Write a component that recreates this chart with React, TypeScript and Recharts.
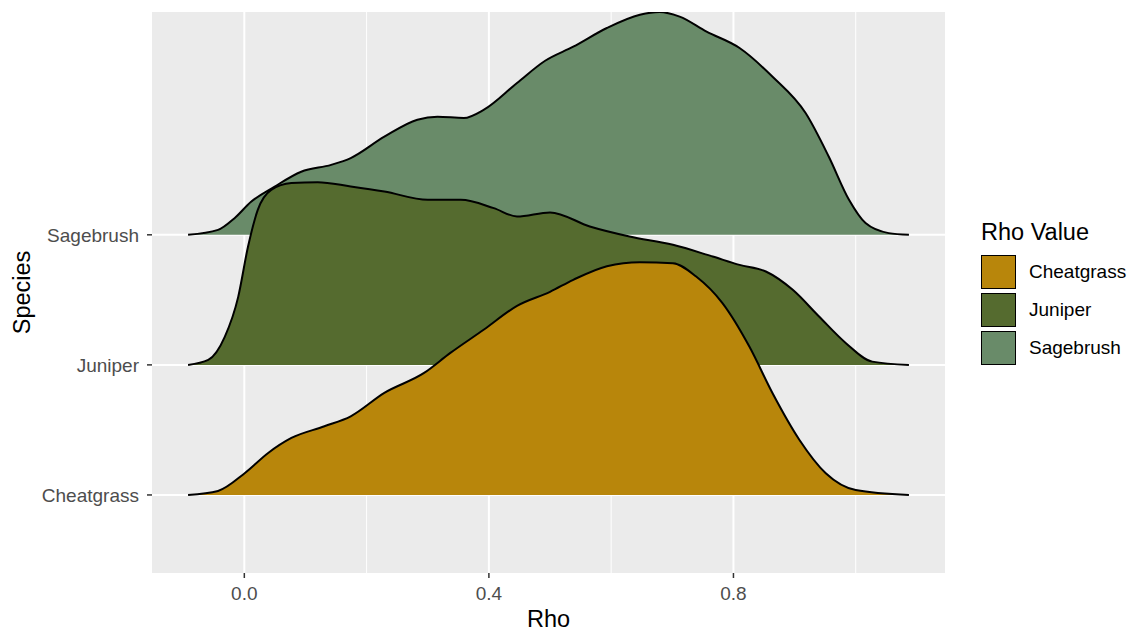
import React from "react";
import { ComposedChart, Area, XAxis, YAxis, CartesianGrid, Legend } from "recharts";

const FONT = '"Liberation Sans", Arial, Helvetica, sans-serif';

// species rows (bottom to top) and their fills
const species = ["Cheatgrass", "Juniper", "Sagebrush"];
const speciesColors = ["#B8860B", "#556B2F", "#698B69"];

// density curves: rho positions + ridge heights (in row units)
const sagebrushRho = [
  -0.092, -0.043, -0.016, 0.011, 0.049, 0.093, 0.142, 0.174, 0.229, 0.283, 0.316, 0.359, 0.392, 0.446,
  0.492, 0.538, 0.593, 0.647, 0.679, 0.712, 0.756, 0.81, 0.864, 0.918, 0.956, 0.989, 1.016, 1.054, 1.087,
];
const sagebrushDensity = [
  0, 0.038, 0.128, 0.254, 0.369, 0.485, 0.538, 0.59, 0.754, 0.885, 0.908, 0.898, 0.962, 1.167,
  1.338, 1.446, 1.59, 1.692, 1.713, 1.677, 1.562, 1.436, 1.215, 0.936, 0.6, 0.269, 0.09, 0.013, 0,
];

const juniperRho = [
  -0.092, -0.059, -0.032, -0.01, 0.006, 0.022, 0.044, 0.077, 0.12, 0.174, 0.229, 0.3, 0.354, 0.408,
  0.446, 0.5, 0.565, 0.63, 0.701, 0.766, 0.81, 0.853, 0.897, 0.94, 0.984, 1.027, 1.087,
];
const juniperDensity = [
  0, 0.038, 0.215, 0.523, 0.908, 1.192, 1.346, 1.398, 1.405, 1.372, 1.333, 1.269, 1.269, 1.205,
  1.141, 1.172, 1.064, 0.987, 0.923, 0.833, 0.769, 0.718, 0.577, 0.372, 0.167, 0.025, 0,
];

const cheatgrassRho = [
  -0.092, -0.043, 0.001, 0.039, 0.077, 0.131, 0.174, 0.229, 0.294, 0.337, 0.392, 0.446, 0.5,
  0.538, 0.593, 0.647, 0.701, 0.739, 0.782, 0.826, 0.864, 0.908, 0.951, 1.0, 1.087,
];
const cheatgrassDensity = [
  0, 0.031, 0.169, 0.323, 0.438, 0.528, 0.605, 0.785, 0.938, 1.092, 1.272, 1.454, 1.562,
  1.654, 1.759, 1.79, 1.782, 1.679, 1.475, 1.141, 0.782, 0.423, 0.167, 0.038, 0,
];

const rhoTicks = [0, 0.4, 0.8];
const rhoMinorTicks = [0.2, 0.6, 1.0];
const speciesTicks = [1, 2, 3];

// draw order: top ridge first so lower ridges overlap it
const ridges = [
  { name: "Sagebrush", base: 3, rho: sagebrushRho, density: sagebrushDensity, color: speciesColors[2] },
  { name: "Juniper", base: 2, rho: juniperRho, density: juniperDensity, color: speciesColors[1] },
  { name: "Cheatgrass", base: 1, rho: cheatgrassRho, density: cheatgrassDensity, color: speciesColors[0] },
];

// one table keyed by rho, each ridge sits on its own row baseline
const rowMap = new Map<number, Record<string, number>>();
ridges.forEach((r) => {
  r.rho.forEach((x, i) => {
    const row = rowMap.get(x) || { rho: x };
    row[r.name] = r.base + r.density[i];
    rowMap.set(x, row);
  });
});
const rows = Array.from(rowMap.values()).sort((a, b) => a.rho - b.rho);

const RidgeLegend = () => (
  <div style={{ fontFamily: FONT, color: "#000" }}>
    <div style={{ fontSize: 23.5, lineHeight: "28px", marginBottom: 7, whiteSpace: "nowrap" }}>Rho Value</div>
    {species.map((name, i) => (
      <div key={name} style={{ display: "flex", alignItems: "center", height: 38 }}>
        <div
          style={{
            width: 33,
            height: 32,
            background: speciesColors[i],
            border: "1.5px solid #000",
          }}
        />
        <span style={{ marginLeft: 13, fontSize: 19, whiteSpace: "nowrap" }}>{name}</span>
      </div>
    ))}
  </div>
);

export default function App() {
  return (
    <div style={{ position: "absolute", left: 0, top: 0, width: 1132, height: 631, background: "#fff" }}>
      <ComposedChart
        width={1132}
        height={631}
        data={rows}
        margin={{ top: 12, right: 187, bottom: 0, left: 0 }}
        style={{ fontFamily: FONT }}
      >
        <CartesianGrid
          fill="#EBEBEB"
          stroke="#FFFFFF"
          strokeWidth={1}
          horizontal={false}
          verticalValues={rhoMinorTicks}
        />
        <CartesianGrid
          stroke="#FFFFFF"
          strokeWidth={2}
          verticalValues={rhoTicks}
          horizontalValues={speciesTicks}
        />
        <XAxis
          type="number"
          dataKey="rho"
          domain={[-0.151, 1.146]}
          allowDataOverflow
          ticks={rhoTicks}
          tickFormatter={(v: number) => v.toFixed(1)}
          axisLine={false}
          tickLine={{ stroke: "#333333", strokeWidth: 1.5 }}
          tickSize={5}
          tickMargin={9}
          tick={{ fill: "#4D4D4D", fontSize: 19 }}
          height={58}
          label={{ value: "Rho", position: "insideBottom", offset: 4, fill: "#000", fontSize: 23.5 }}
        />
        <YAxis
          type="number"
          domain={[0.4, 4.713]}
          allowDataOverflow
          ticks={speciesTicks}
          tickFormatter={(v: number) => species[v - 1]}
          axisLine={false}
          tickLine={{ stroke: "#333333", strokeWidth: 1.5 }}
          tickSize={5}
          tickMargin={8}
          tick={{ fill: "#4D4D4D", fontSize: 19 }}
          width={152}
          label={{
            value: "Species",
            angle: -90,
            position: "insideLeft",
            offset: 22,
            fill: "#000",
            fontSize: 23.5,
            style: { textAnchor: "middle" },
          }}
        />
        {ridges.map((r) => (
          <Area
            key={r.name}
            type="monotone"
            dataKey={r.name}
            baseValue={r.base}
            connectNulls
            fill={r.color}
            fillOpacity={1}
            stroke="#000000"
            strokeWidth={2}
            dot={false}
            activeDot={false}
            isAnimationActive={false}
          />
        ))}
        <Legend
          layout="vertical"
          align="center"
          verticalAlign="middle"
          content={<RidgeLegend />}
          wrapperStyle={{ left: 981, top: 218, width: 150, height: "auto" }}
        />
      </ComposedChart>
    </div>
  );
}
